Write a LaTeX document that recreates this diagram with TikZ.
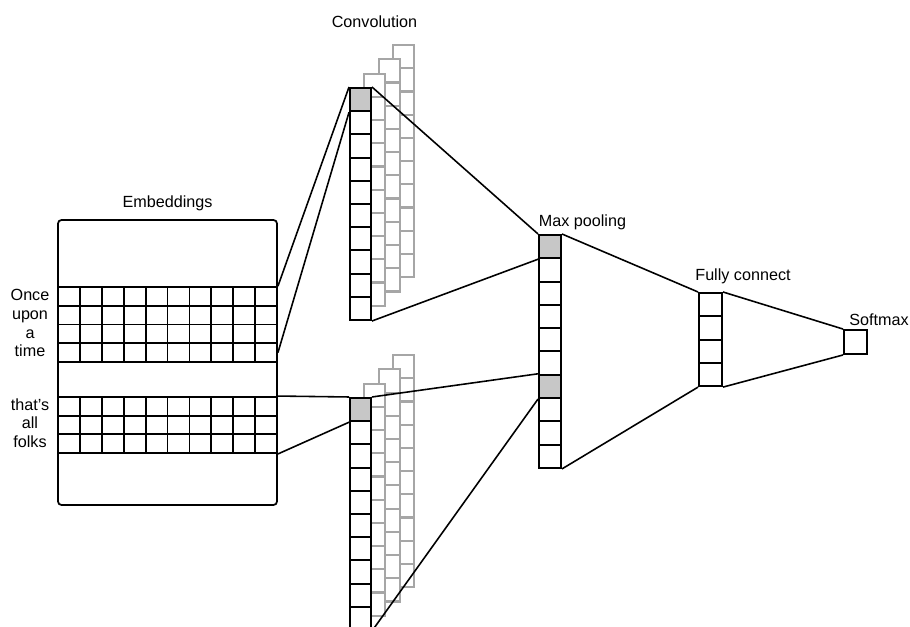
\documentclass[tikz,border=0pt]{standalone}
\usepackage{fontspec}
\setmainfont{Liberation Sans}
\tikzset{
  cell/.style={draw,line width=1.1pt,minimum width=0.42cm,minimum height=0.466cm,inner sep=0},
  ghost/.style={cell,draw=black!35,fill=white,line width=1.2pt},
  grid/.style={draw,line width=1pt,minimum width=0.438cm,minimum height=0.375cm,inner sep=0},
  lbl/.style={anchor=base,font=\fontsize{9.2}{11}\selectfont}
}
\begin{document}
\begin{tikzpicture}[x=0.2mm,y=-0.2mm,line width=0.9pt]
\useasboundingbox (0,0) rectangle (910,627);
% embeddings
\node[draw,line width=1pt,rounded corners=2pt,minimum width=4.38cm,minimum height=5.7cm] (emb) at (167.5,362.5) {};
\node[lbl] (embl) at (167.5,207) {Embeddings};
\foreach \w[count=\r from 0] in {Once,upon,a,time} {
    \node[lbl] (w\r) at (30,300.5+18.75*\r) {\w};
    \foreach \c in {0,...,9}
        \node[grid] (e\r\c) at (69+21.9*\c,296.4+18.75*\r) {};
}
\foreach \w[count=\r from 0] in {that's,all,folks} {
    \node[lbl] (t\r) at (30,410+18.7*\r) {\w};
    \foreach \c in {0,...,9}
        \node[grid] (g\r\c) at (69+21.9*\c,406.3+18.7*\r) {};
}
% convolution
\foreach \k in {3,2,1}
    \foreach \i in {0,...,9} {
        \node[ghost] (u\k\i) at (360.5+14.3*\k,99.6+23.2*\i-14.3*\k) {};
        \node[ghost] (l\k\i) at (360.5+14.3*\k,409.6+23.2*\i-14.3*\k) {};
    }
\foreach \i in {0,...,9} {
    \ifnum\i=0\relax \def\shade{black!22}\else \def\shade{white}\fi
    \node[cell,fill=\shade] (c\i) at (360.5,99.6+23.2*\i) {};
    \node[cell,fill=\shade] (d\i) at (360.5,409.6+23.2*\i) {};
}
\node[lbl] (convl) at (374.5,27) {Convolution};
% max pooling
\foreach \i in {0,...,9} {
    \def\shade{white}
    \ifnum\i=0\relax \def\shade{black!22}\fi
    \ifnum\i=6\relax \def\shade{black!22}\fi
    \node[cell,fill=\shade,minimum width=0.44cm] (p\i) at (550,246.6+23.3*\i) {};
}
\node[lbl] (pooll) at (582.5,226) {Max pooling};
% fully connected and softmax
\foreach \i in {0,...,3}
    \node[cell,minimum width=0.46cm] (f\i) at (710.5,304.6+23.3*\i) {};
\node[lbl] (fcl) at (743,280) {Fully connect};
\node[cell,minimum width=0.46cm,minimum height=0.48cm] (s) at (855.5,342) {};
\node[lbl] (sl) at (879,325) {Softmax};
% connections
\draw (e09.north east) -- (c0.north west);
\draw (e39.east) -- (c0.south west);
\draw (g09.north east) -- (d0.north west);
\draw (g29.south east) -- (d0.south west);
\draw (c0.north east) -- (p0.north west);
\draw (c9.south east) -- (p0.south west);
\draw (d0.north east) -- (p6.north west);
\draw (d9.south east) -- (p6.south west);
\draw (p0.north east) -- (f0.north west);
\draw (p9.south east) -- (f3.south west);
\draw (f0.north east) -- (s.north west);
\draw (f3.south east) -- (s.south west);
\end{tikzpicture}
\end{document}
